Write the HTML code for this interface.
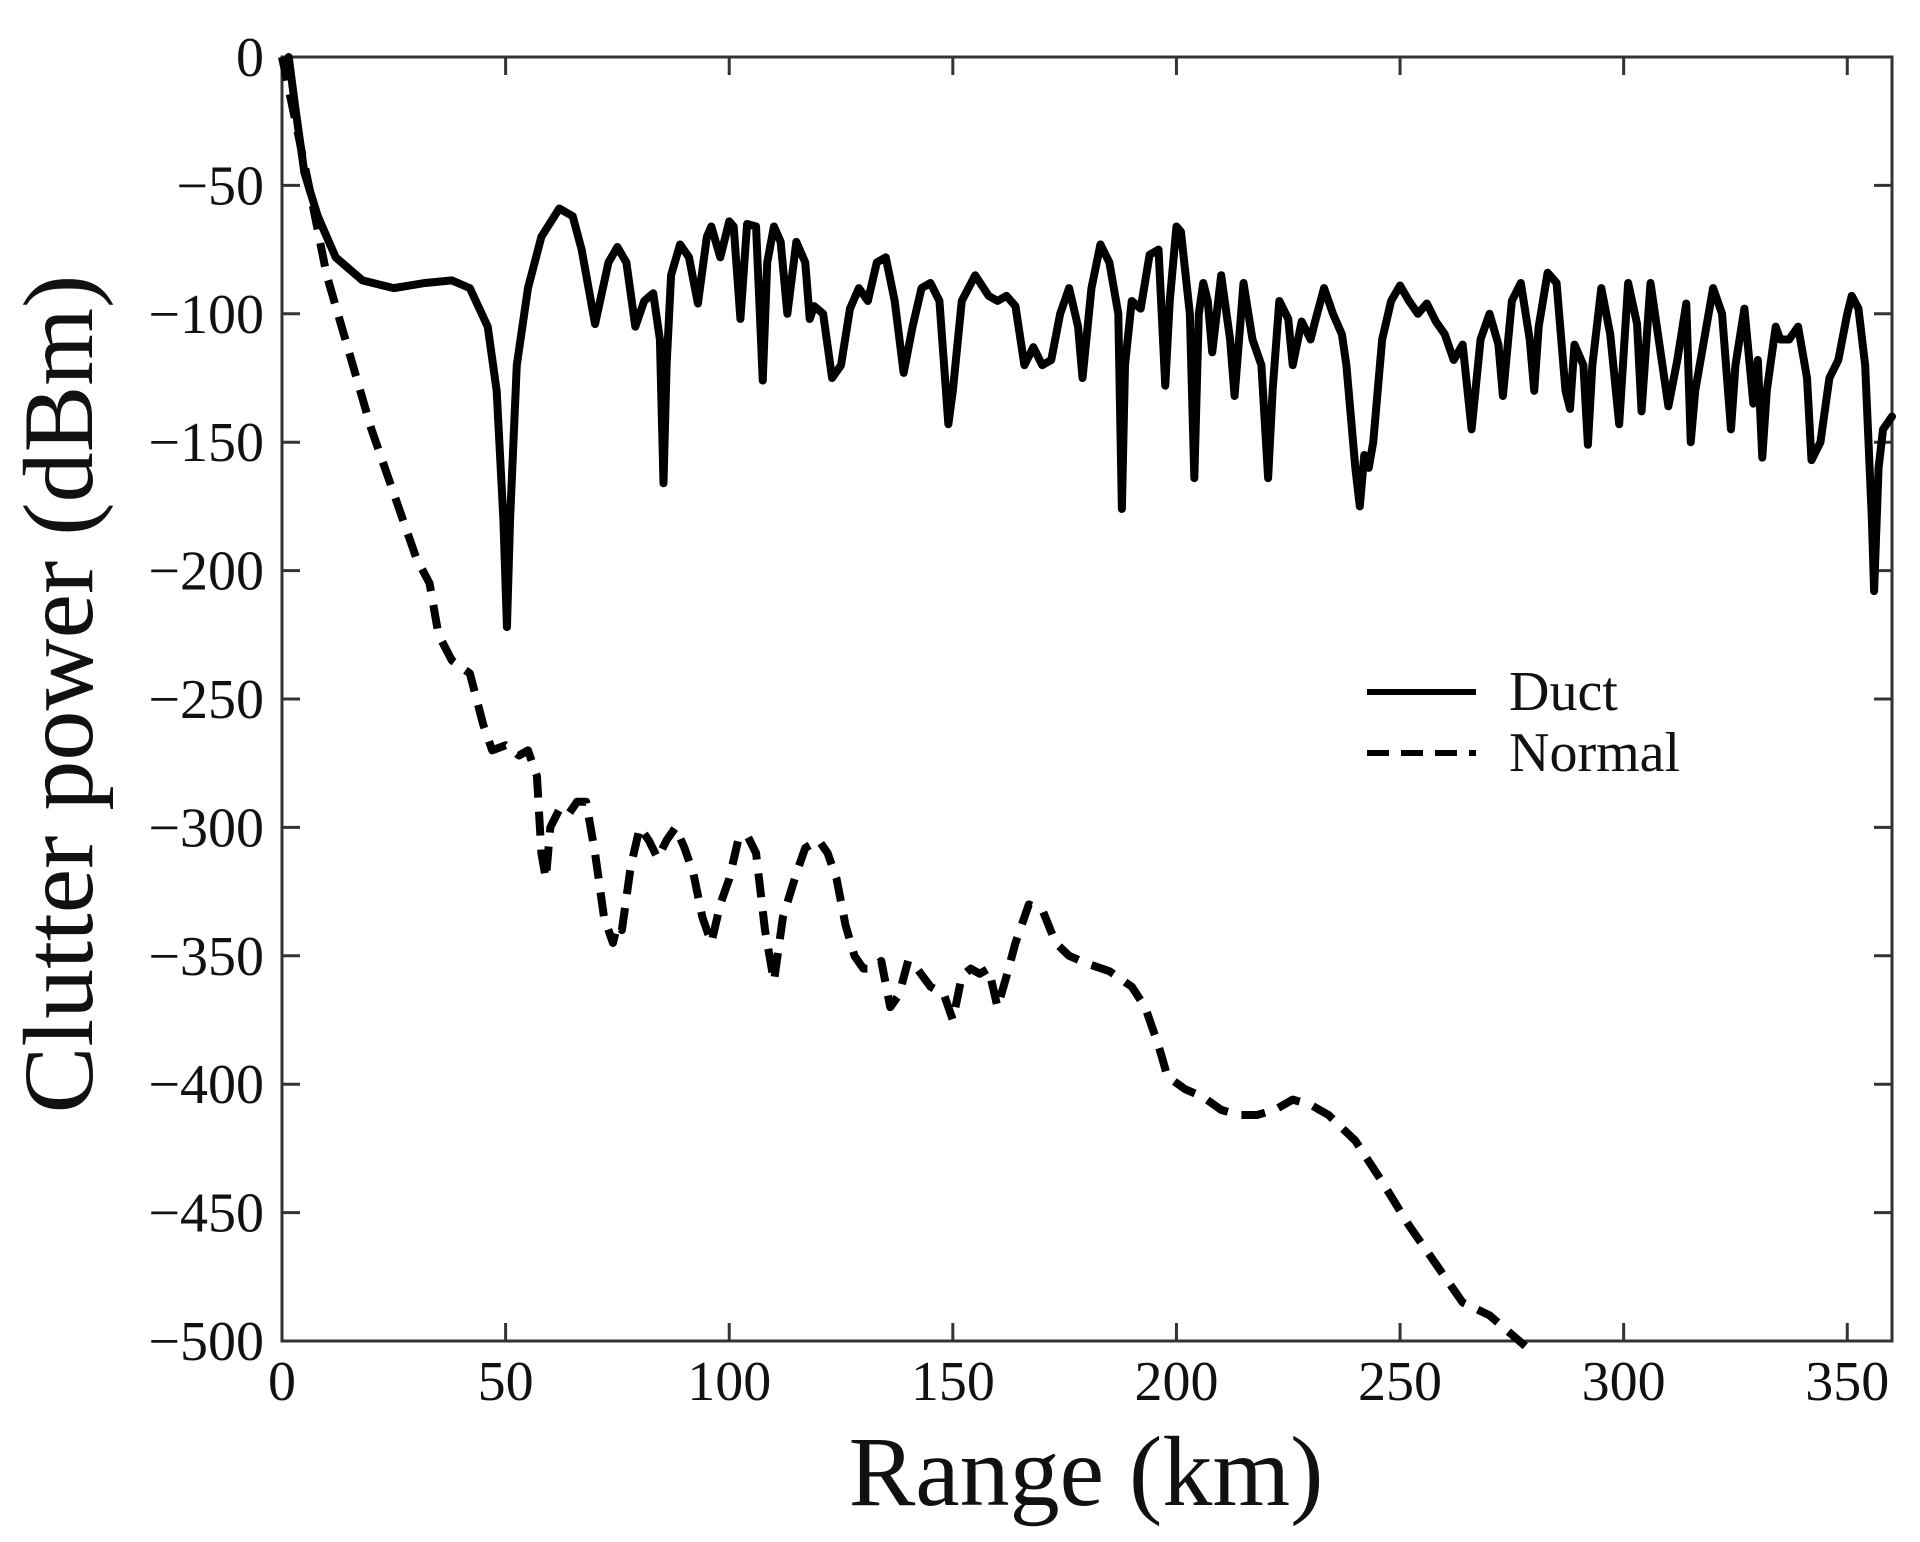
<!DOCTYPE html>
<html><head><meta charset="utf-8"><style>
html,body{margin:0;padding:0;background:#fff;}
svg{display:block;}
text{font-family:"Liberation Serif",serif;fill:#111;}
</style></head><body>
<svg id="s" width="1920" height="1542" viewBox="0 0 1920 1542" xmlns="http://www.w3.org/2000/svg">
<rect width="1920" height="1542" fill="#fff"/>
<g id="axes" stroke="#333" stroke-width="3" fill="none">
<rect x="282" y="57" width="1610" height="1284"/>
</g>
<g id="ticks" stroke="#333" stroke-width="3"></g>
<g id="labels" font-size="56" style="fill:#222"></g>
<g transform="translate(282,57) scale(4.4722,-2.568)">
<polyline id="duct" fill="none" stroke="#000" stroke-width="8" stroke-linejoin="round" stroke-linecap="round" vector-effect="non-scaling-stroke" points=""/>
<polyline id="norm" fill="none" stroke="#000" stroke-width="8" stroke-linejoin="round" stroke-dasharray="24 14" vector-effect="non-scaling-stroke" points=""/>
</g>
<line x1="1367" y1="692" x2="1476" y2="692" stroke="#000" stroke-width="6"/>
<line x1="1367" y1="753" x2="1476" y2="753" stroke="#000" stroke-width="6" stroke-dasharray="22 12"/>
<text x="1509" y="710" font-size="56">Duct</text>
<text x="1509" y="771" font-size="56">Normal</text>
<text x="1086" y="1505" font-size="100" text-anchor="middle">Range (km)</text>
<text transform="translate(92,694) rotate(-90)" font-size="100" text-anchor="middle">Clutter power (dBm)</text>
</svg>
<script>
var duct=[[1.5,0],[3,-20],[5,-45],[8,-62],[12,-78],[18,-87],[25,-90],[32,-88],[38,-87],[42,-90],[46,-105],[48,-130],[49.5,-180],[50.3,-222],[51,-180],[52.5,-120],[55,-90],[58,-70],[62,-59],[65,-62],[67,-75],[70,-104],[73,-80],[75,-74],[77,-80],[79,-105],[81,-95],[83,-92],[84.5,-110],[85.3,-166],[86,-120],[87,-85],[89,-73],[91,-78],[93,-96],[95,-70],[96,-66],[98,-78],[100,-64],[101,-66],[102.5,-102],[104,-65],[106,-66],[107.5,-126],[108.5,-80],[110,-66],[111.5,-72],[113,-100],[115,-72],[117,-80],[118,-102],[119,-97],[121,-100],[123,-125],[125,-120],[127,-98],[129,-90],[131,-95],[133,-80],[135,-78],[137,-95],[139,-123],[141,-105],[143,-90],[145,-88],[147,-95],[149,-143],[150,-130],[152,-95],[155,-85],[158,-93],[160,-95],[162,-93],[164,-97],[166,-120],[168,-113],[170,-120],[172,-118],[174,-100],[176,-90],[178,-105],[179,-125],[181,-90],[183,-73],[185,-80],[187,-100],[187.8,-176],[188.5,-120],[190,-95],[192,-98],[194,-77],[196,-75],[197.5,-128],[198.5,-95],[200,-66],[201,-68],[203,-100],[204,-164],[205,-100],[206,-88],[207,-95],[208,-115],[210,-85],[212,-110],[213,-132],[215,-88],[217,-110],[219,-120],[220.5,-164],[221.5,-130],[223,-95],[225,-102],[226,-120],[228,-103],[230,-110],[231,-103],[233,-90],[235,-100],[237,-108],[238,-120],[240,-160],[241,-175],[242,-155],[243,-160],[244,-150],[246,-110],[248,-95],[250,-89],[252,-95],[254,-100],[256,-96],[258,-103],[260,-108],[262,-118],[264,-112],[266,-145],[268,-110],[270,-100],[272,-112],[273,-132],[275,-95],[277,-88],[279,-110],[280,-130],[281,-105],[283,-84],[285,-88],[287,-130],[288,-137],[289,-112],[291,-120],[292,-151],[293,-120],[295,-90],[297,-108],[299,-143],[301,-88],[303,-104],[304,-138],[306,-88],[308,-112],[310,-136],[312,-118],[314,-96],[315,-150],[316,-130],[318,-110],[320,-90],[322,-100],[324,-145],[325,-120],[327,-98],[329,-135],[330,-118],[331,-156],[332,-130],[334,-105],[335,-110],[337,-110],[339,-105],[341,-125],[342,-157],[344,-150],[346,-125],[348,-118],[350,-100],[351,-93],[352.5,-98],[354,-120],[355.5,-180],[356,-208],[357,-160],[358,-145],[360,-140]];
var norm=[[0,0],[3,-25],[6,-50],[10,-85],[15,-115],[20,-145],[25,-170],[30,-195],[33,-205],[35,-225],[38,-235],[42,-240],[45,-260],[47,-270],[50,-268],[53,-272],[55,-270],[57,-280],[58,-310],[59,-320],[60,-300],[62,-293],[64,-295],[66,-290],[68,-290],[70,-310],[72,-335],[74,-345],[75,-338],[76,-340],[78,-315],[80,-300],[82,-305],[84,-312],[86,-305],[88,-300],[90,-308],[92,-318],[94,-335],[96,-345],[98,-330],[100,-320],[102,-305],[104,-303],[106,-310],[108,-340],[110,-360],[112,-335],[115,-318],[117,-308],[120,-305],[122,-310],[124,-320],[126,-338],[128,-350],[130,-355],[132,-355],[134,-352],[136,-370],[138,-365],[140,-352],[142,-355],[145,-362],[148,-365],[150,-375],[152,-358],[154,-355],[156,-357],[158,-355],[160,-370],[162,-358],[164,-345],[167,-330],[170,-332],[173,-345],[176,-350],[180,-353],[185,-356],[190,-362],[193,-370],[196,-385],[198,-397],[202,-402],[206,-405],[210,-410],[214,-412],[218,-412],[222,-410],[226,-406],[230,-408],[234,-412],[240,-422],[246,-438],[252,-455],[258,-470],[264,-485],[270,-490],[278,-502]];
function pts(a){return a.map(function(p){return p[0]+","+p[1];}).join(" ");}
document.getElementById("duct").setAttribute("points",pts(duct));
document.getElementById("norm").setAttribute("points",pts(norm));
var NS="http://www.w3.org/2000/svg",t=document.getElementById("ticks"),l=document.getElementById("labels");
function ln(x1,y1,x2,y2){var e=document.createElementNS(NS,"line");e.setAttribute("x1",x1);e.setAttribute("y1",y1);e.setAttribute("x2",x2);e.setAttribute("y2",y2);t.appendChild(e);}
function tx(x,y,s,a){var e=document.createElementNS(NS,"text");e.setAttribute("x",x);e.setAttribute("y",y);e.setAttribute("text-anchor",a);e.textContent=s;l.appendChild(e);}
for(var k=0;k<=350;k+=50){var x=282+k*4.4722;ln(x,1341,x,1323);ln(x,57,x,75);tx(x,1400,String(k),"middle");}
for(var v=0;v>=-500;v-=50){var y=57-v*2.568;ln(282,y,300,y);ln(1892,y,1874,y);tx(264,y+19,v==0?"0":"\u2212"+(-v),"end");}
</script>
</body></html>
